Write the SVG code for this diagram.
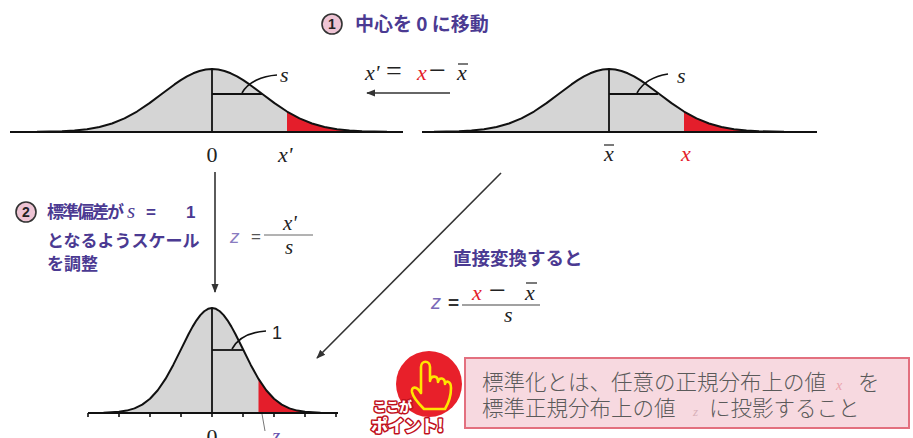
<svg xmlns="http://www.w3.org/2000/svg" xmlns:xlink="http://www.w3.org/1999/xlink" width="913" height="438" viewBox="0 0 913 438">
  <style>
    .axis { stroke: #111; stroke-width: 2; fill: none; }
    .curve { stroke: #111; stroke-width: 2; fill: none; stroke-linejoin: round; }
    .area { fill: #d5d5d5; }
    .tail { fill: #e41e2b; }
    .guide { stroke: #111; stroke-width: 1.8; fill: none; }
    .pointer { stroke: #111; stroke-width: 1.6; fill: none; }
    .conn { stroke: #333; stroke-width: 1.6; fill: none; }
    .serif { font-family: "Liberation Serif", "Times New Roman", serif; }
    .var { font-style: italic; }
    .ink { fill: #222; }
    .red { fill: #e41e2b; }
    .jp { font-family: "Noto Sans CJK JP", sans-serif; font-weight: bold; fill: #4b3a92; }
    .note { font-family: "Noto Sans CJK JP", sans-serif; font-weight: 300; fill: #5a5a5a; }
    .badge-txt { font-family: "Noto Sans CJK JP", sans-serif; font-weight: 900; fill: #fff; stroke: #c0101c; stroke-width: 3; paint-order: stroke; stroke-linejoin: round; }
  </style>
  <defs>
    <marker id="head" viewBox="0 0 10 10" refX="9" refY="5" markerWidth="9" markerHeight="9" orient="auto" markerUnits="userSpaceOnUse">
      <path d="M0,1 L10,5 L0,9 Z" fill="#333"/>
    </marker>
    <!-- bell curve, sigma 50, baseline y=132, centred on x=0 -->
    <path id="bellWide" d="M-175,131.86 L-150,131.3 L-137.5,130.56 L-125,129.23 L-112.5,126.99 L-100,123.48 L-87.5,118.37 L-75,111.54 L-62.5,103.16 L-50,93.79 L-37.5,84.45 L-31.25,80.17 L-25,76.4 L-18.75,73.28 L-12.5,70.94 L-6.25,69.49 L0,69 L6.25,69.49 L12.5,70.94 L18.75,73.28 L25,76.4 L31.25,80.17 L37.5,84.45 L50,93.79 L62.5,103.16 L75,111.54 L87.5,118.37 L100,123.48 L112.5,126.99 L125,129.23 L137.5,130.56 L150,131.3 L175,131.86"/>
    <path id="bellWideArea" d="M-175,132 L-175,131.86 L-150,131.3 L-137.5,130.56 L-125,129.23 L-112.5,126.99 L-100,123.48 L-87.5,118.37 L-75,111.54 L-62.5,103.16 L-50,93.79 L-37.5,84.45 L-31.25,80.17 L-25,76.4 L-18.75,73.28 L-12.5,70.94 L-6.25,69.49 L0,69 L6.25,69.49 L12.5,70.94 L18.75,73.28 L25,76.4 L31.25,80.17 L37.5,84.45 L50,93.79 L62.5,103.16 L75,111.54 L87.5,118.37 L100,123.48 L112.5,126.99 L125,129.23 L137.5,130.56 L150,131.3 L175,131.86 L175,132 Z"/>
    <path id="bellWideTail" d="M75,132 L75,111.54 L87.5,118.37 L100,123.48 L112.5,126.99 L125,129.23 L137.5,130.56 L150,131.3 L175,131.86 L175,132 Z"/>
    <!-- unit bell curve, sigma 31, baseline y=413 -->
    <path id="bellStd" d="M-108.5,412.77 L-93,411.83 L-85.25,410.61 L-77.5,408.39 L-69.75,404.64 L-62,398.79 L-54.25,390.29 L-46.5,378.91 L-38.75,364.93 L-31,349.32 L-23.25,333.75 L-19.375,326.63 L-15.5,320.34 L-11.625,315.13 L-7.75,311.23 L-3.875,308.82 L0,308 L3.875,308.82 L7.75,311.23 L11.625,315.13 L15.5,320.34 L19.375,326.63 L23.25,333.75 L31,349.32 L38.75,364.93 L46.5,378.91 L54.25,390.29 L62,398.79 L69.75,404.64 L77.5,408.39 L85.25,410.61 L93,411.83 L108.5,412.77"/>
    <path id="bellStdArea" d="M-108.5,413 L-108.5,412.77 L-93,411.83 L-85.25,410.61 L-77.5,408.39 L-69.75,404.64 L-62,398.79 L-54.25,390.29 L-46.5,378.91 L-38.75,364.93 L-31,349.32 L-23.25,333.75 L-19.375,326.63 L-15.5,320.34 L-11.625,315.13 L-7.75,311.23 L-3.875,308.82 L0,308 L3.875,308.82 L7.75,311.23 L11.625,315.13 L15.5,320.34 L19.375,326.63 L23.25,333.75 L31,349.32 L38.75,364.93 L46.5,378.91 L54.25,390.29 L62,398.79 L69.75,404.64 L77.5,408.39 L85.25,410.61 L93,411.83 L108.5,412.77 L108.5,413 Z"/>
    <path id="bellStdTail" d="M46.5,413 L46.5,378.91 L54.25,390.29 L62,398.79 L69.75,404.64 L77.5,408.39 L85.25,410.61 L93,411.83 L108.5,412.77 L108.5,413 Z"/>
  </defs>

  <rect width="913" height="438" fill="#ffffff"/>

  <!-- step 1 heading -->
  <g id="step1-title">
    <circle cx="332" cy="24" r="10" fill="#eec4d4" stroke="#333" stroke-width="1.6"/>
    <text x="332" y="29" text-anchor="middle" font-family="Liberation Sans, sans-serif" font-weight="bold" font-size="14" fill="#222">1</text>
    <text class="jp" x="355" y="31" font-size="19">中心を 0 に移動</text>
  </g>

  <!-- sample distribution, centred at 0 -->
  <g id="dist-centred">
    <use xlink:href="#bellWideArea" transform="translate(212,0)" class="area"/>
    <use xlink:href="#bellWideTail" transform="translate(212,0)" class="tail"/>
    <use xlink:href="#bellWide" transform="translate(212,0)" class="curve"/>
    <line class="axis" x1="10" y1="132" x2="403" y2="132"/>
    <line class="guide" x1="212" y1="69" x2="212" y2="132"/>
    <line class="guide" x1="212" y1="94" x2="262" y2="94"/>
    <path class="pointer" d="M277,75 C262,76 248,82 242,93"/>
    <text class="serif var ink" x="280" y="82" font-size="22">s</text>
    <text class="serif ink" x="212" y="162" text-anchor="middle" font-size="22">0</text>
    <text class="serif var ink" x="278" y="162" font-size="22">x'</text>
  </g>

  <!-- original distribution, centred at the mean -->
  <g id="dist-original">
    <use xlink:href="#bellWideArea" transform="translate(609,0)" class="area"/>
    <use xlink:href="#bellWideTail" transform="translate(609,0)" class="tail"/>
    <use xlink:href="#bellWide" transform="translate(609,0)" class="curve"/>
    <line class="axis" x1="422" y1="132" x2="817" y2="132"/>
    <line class="guide" x1="609" y1="69" x2="609" y2="132"/>
    <line class="guide" x1="609" y1="94" x2="658" y2="94"/>
    <path class="pointer" d="M668,74 C655,76 643,82 637,93"/>
    <text class="serif var ink" x="677" y="83" font-size="22">s</text>
    <text class="serif var ink" x="609" y="161" text-anchor="middle" font-size="22">x</text>
    <line x1="604" y1="145" x2="614" y2="145" stroke="#222" stroke-width="1.2"/>
    <text class="serif var red" x="686" y="161" text-anchor="middle" font-size="22">x</text>
  </g>

  <!-- shift formula -->
  <g id="formula-shift">
    <text class="serif ink" y="80" font-size="22"><tspan x="365" class="var">x'</tspan><tspan x="386" font-size="28">=</tspan><tspan x="417" class="var red">x</tspan><tspan x="429" font-size="30">−</tspan><tspan x="457" class="var">x</tspan></text>
    <line x1="458" y1="64" x2="468" y2="64" stroke="#222" stroke-width="1.2"/>
  </g>

  <!-- step 2 caption -->
  <g id="step2-caption">
    <circle cx="26" cy="212" r="10" fill="#eec4d4" stroke="#333" stroke-width="1.6"/>
    <text x="26" y="217" text-anchor="middle" font-family="Liberation Sans, sans-serif" font-weight="bold" font-size="14" fill="#222">2</text>
    <text class="jp" font-size="17" y="218"><tspan x="47" letter-spacing="-2">標準偏差が</tspan><tspan x="127" class="serif var" font-weight="normal" font-size="21">s</tspan><tspan x="146" font-family="Liberation Sans, sans-serif">=</tspan><tspan x="186" font-family="Liberation Sans, sans-serif">1</tspan></text>
    <text class="jp" font-size="17" x="47" y="247">となるようスケール</text>
    <text class="jp" font-size="17" x="47" y="270">を調整</text>
  </g>

  <!-- scale formula -->
  <g id="formula-scale">
    <text x="230" y="243" font-family="Liberation Sans, sans-serif" font-style="italic" font-size="19" fill="#8a7cc0">z</text>
    <text x="251" y="242" font-family="Liberation Sans, sans-serif" font-size="17" fill="#555">=</text>
    <text class="serif var ink" x="283" y="230" font-size="21">x'</text>
    <line x1="264" y1="235" x2="313" y2="235" stroke="#666" stroke-width="1"/>
    <text class="serif var ink" x="285" y="254" font-size="21">s</text>
  </g>

  <!-- standard normal distribution -->
  <g id="dist-standard">
    <use xlink:href="#bellStdArea" transform="translate(212,0)" class="area"/>
    <use xlink:href="#bellStdTail" transform="translate(212,0)" class="tail"/>
    <use xlink:href="#bellStd" transform="translate(212,0)" class="curve"/>
    <line class="axis" x1="88" y1="413" x2="338" y2="413"/>
    <path d="M88,413 v4 M119,413 v4 M150,413 v4 M181,413 v4 M212,413 v4 M243,413 v4 M274,413 v4 M305,413 v4 M336,413 v4" stroke="#111" stroke-width="1.6"/>
    <line class="guide" x1="212" y1="308" x2="212" y2="413"/>
    <line class="guide" x1="212" y1="350" x2="243" y2="350"/>
    <path class="pointer" d="M266,331 C250,332 238,338 232,349"/>
    <text x="272" y="339" font-family="Liberation Sans, sans-serif" font-size="18" fill="#222">1</text>
    <text class="serif ink" x="212" y="444" text-anchor="middle" font-size="22">0</text>
    <line x1="262" y1="414" x2="265" y2="431" stroke="#777" stroke-width="1"/>
    <text class="serif var" x="276" y="443" text-anchor="middle" font-size="21" fill="#6a55b0">z</text>
  </g>

  <!-- direct transform caption and formula -->
  <g id="formula-direct">
    <text class="jp" x="453" y="265" font-size="18.5">直接変換すると</text>
    <text x="431" y="309" font-family="Liberation Sans, sans-serif" font-style="italic" font-size="20" fill="#7a6ab8">z</text>
    <text x="448" y="309" font-family="Liberation Sans, sans-serif" font-weight="bold" font-size="19" fill="#333">=</text>
    <text class="serif var red" x="472" y="300" font-size="22">x</text>
    <text class="serif ink" x="489" y="300" font-size="30">−</text>
    <text class="serif var ink" x="525" y="300" font-size="22">x</text>
    <line x1="526" y1="283" x2="537" y2="283" stroke="#222" stroke-width="1.2"/>
    <line x1="462" y1="305" x2="540" y2="305" stroke="#444" stroke-width="1.2"/>
    <text class="serif var ink" x="504" y="322" font-size="22">s</text>
  </g>

  <!-- connectors -->
  <g id="connectors">
    <line class="conn" x1="450" y1="93" x2="367" y2="93" marker-end="url(#head)"/>
    <line class="conn" x1="215" y1="172" x2="215" y2="292" marker-end="url(#head)"/>
    <line class="conn" x1="501" y1="173" x2="317" y2="358" marker-end="url(#head)"/>
  </g>

  <!-- key-point badge -->
  <g id="badge">
    <circle cx="429" cy="384" r="33" fill="#e8202a"/>
    <path d="M424,409 C418,403 413,397 412,392 C411,386 417,386 421,393 L421,367 C421,360 430,360 430,367 L430,381 C431,375 438,375 438,382 C439,377 445,377 445,384 C446,380 451,381 451,388 C451,397 448,404 445,409 Z" fill="none" stroke="#ffe600" stroke-width="2.6" stroke-linejoin="round"/>
    <text class="badge-txt" x="373" y="411" font-size="13">ここが</text>
    <text class="badge-txt" x="371" y="432" font-size="17" letter-spacing="-0.5">ポイント!</text>
  </g>

  <!-- summary note -->
  <g id="note">
    <rect x="465" y="358" width="444" height="70" fill="#f7d9e0" stroke="#e3707f" stroke-width="2"/>
    <text class="note" y="390" font-size="21.5"><tspan x="482">標準化とは、任意の正規分布上の値</tspan><tspan x="836" class="serif var" font-size="14" fill="#eaa0aa">x</tspan><tspan x="858">を</tspan></text>
    <text class="note" y="416" font-size="21.5"><tspan x="482">標準正規分布上の値</tspan><tspan x="693" class="serif var" font-size="13" fill="#d8b0b8">z</tspan><tspan x="709">に投影すること</tspan></text>
  </g>
</svg>
